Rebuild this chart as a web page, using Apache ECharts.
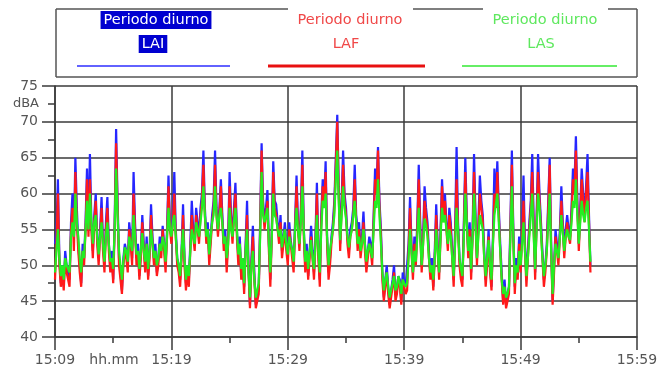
<!DOCTYPE html>
<html><head><meta charset="utf-8">
<script src="https://cdn.jsdelivr.net/npm/echarts@6/dist/echarts.min.js"></script>
<style>html,body{margin:0;padding:0;background:#fff}#c{width:664px;height:371px}</style>
</head><body><div id="c"></div>
<script>
// minutes after 15:09, one sample every 0.125 min
const startHour = 15, startMinute = 9, stepMinutes = 0.125;
const xTickMinutes = [0, 10, 20, 30, 40, 50];
const yTicks = [40, 45, 50, 55, 60, 65, 70, 75];
const seriesNames = ['Periodo diurno\nLAI', 'Periodo diurno\nLAF', 'Periodo diurno\nLAS'];

const LAI = [53,55,62,51,47.5,50,47,52,50,49,48,56,60,54,65,58,53,50,47.5,53,51,56,63.5,55,65.5,56,52,57,60,54,51,55,59.5,53,50,56,59.5,53,50,52,
48,56,69,59,51,49,46.5,51,53,52,50,56,54,51,63,56,51,53,48.5,52,57,53,50,54,48.5,52,58.5,54,51,53,49,51,54,52,55.5,53,50,55,62.5,56,
54,57,63,55,51,50,48,52,58.5,51,47.5,50,48,53,59,55,53,58,56,54,58,60,66,58,54,56,51,54,57,59,66,58,55,58,62,57,53,55,50,54,
63,57,54,58,61.5,55,51,54,48.5,51,47,53,59,50,44.5,51,55.5,49,44.5,46,46.5,56,67,59,56,58,60.5,53,48,55,64.5,59,58.5,56,54,57,52,54,56,53,
51,56,53.5,52,50,56,62.5,56,53,58,66,55,50,53,48.5,52,55.5,52,49,54,61.5,52,48,57,62,59,64.5,54,49,51,54,56,59,65,71,61,53,59,66,60,
58,54,52,55,56,58,64,57,55,56,52,54,57.5,53,50,52,54,53,51,57,63.5,61,66.5,59,55,49,45.5,48,50,47,44.5,46.5,48,50,46,47,48.5,48,45,49,
47.5,47,47,53,59.5,53,49,54,51,56,64,56,50,54,61,58,56,52,49,51,47,52,58.5,53,49,55,62,57,60,56,53,58,56,52,48,55,66.5,56,51,49,
48,56,65,57,52,56,49,55,65.5,57,51,56,62.5,59,57,52,48,51,55,50,47,54,63.5,59,64.5,58,53,49,45,48,44.5,46,47,56,66,55,47,51,49,54,
50,55,62.5,53,48,52,56,59,65.5,56,49,57,65.5,60,56,52,48,50,53,59,65,53,45,50,55,53,51,55,61,56,52,55,57,55,54,58,63.5,61,68,59,
53,58,63.5,60,57,61,65.5,57,50];

const LAF = [48,53,60,50,47,49,46.5,51,49,48,47,55,58,52,63,56,52,49,47,52,50,55,62,54,62,55,51,56,59,53,50,54,58,52,49,55,58,52,49,51,
47.5,55,67,58,50,48,46,50,52,51,49,55,53,50,60,55,50,52,48,51,56,52,49,53,48,51,57,53,50,52,48.5,50,53,51,55,52,49,54,61,55,
53,56,60,54,50,49,47,51,57,50,46.5,49,47,52,57,54,52,57,55,53,57,59,64,57,53,55,50,53,56,58,64,57,54,57,61,56,52,54,49,53,
61,56,53,57,60,54,50,53,48,50,46,52,57,49,44,50,54,48,44,45,46,55,66,58,55,57,59,52,47,54,63,58,57,55,53,56,51,53,55,52,
50,55,53,51,49,55,61,55,52,57,64,54,49,52,48,51,54,51,48,53,60,51,47,56,61,58,63,53,48,50,53,55,58,64,70,60,52,58,64,59,
57,53,51,54,55,57,62,56,52,55,51,53,56,52,49,51,53,52,50,56,62,60,66,58,54,48,45,47,49,46,44,45.5,47,49,45,46,48,47,44.5,48,
47,46,46.5,52,58,52,48,53,50,55,62,55,49,53,59,57,55,51,48,50,46.5,51,57,52,48,54,61,56,59,55,52,57,55,51,47,54,62,55,50,48,
47,55,63,56,51,55,48,54,63,56,50,55,60,58,56,51,47,50,54,49,46.5,53,60,58,63,57,52,48,44.5,47,44,45,46,55,64,54,46,50,48,53,
49,54,59,52,47,51,55,58,63,55,48,56,63,59,55,51,47,49,52,58,64,52,44.5,49,54,52,50,54,59,55,51,54,56,54,53,57,62,60,66,58,
52,57,62,59,56,60,63,56,49];

const LAS = [49,52,55,51,48.5,50,48,51,50,49.5,49,54,56,54,60,56,54,51,49,52,51,55,59,55,60,56,53,56,57,54,51.5,54,56,53,50.5,54,56,53,50.5,51,
49.5,55,63.5,57,52,50,48,50.5,52.5,52,50.5,54,53,52,57,54,51.5,52,49.5,52,54.5,52,50.5,53,49.5,52,55,53,51,52,50,51,53,52,54,53,50.5,54,58,55,
54,56,57,54,51,50,48.5,52,55,51,48,50,48.5,52,55,54,53,56,55,54,56,58,61,57,54,55,51.5,54,56,57,61,57,55,57,58,56,53,54,51,53,
58,55,54,56,58,55,51.5,53,49.5,51,47.5,52,55,49,45.5,50,52,48,45.5,46.5,47.5,54,63,57,56,57,58,53,49,54,60,57,56.5,55,54,55,52.5,54,55,53,
51.5,54,53,52,50.5,55,58,55,53,56,61,55,50.5,52,49.5,52,53.5,51,49.5,53,57,52,49,55,59,58,60,54,50,52,53.5,55,57,62,66,59,53.5,57,61,58,
56.5,54,52.5,54,55,57,59,56,53,54,52,53,55,53,50.5,52,53,52,51,55,59,58,62,57,53,49,46.5,48,49,47,45.5,46.5,47.5,48.5,46.5,47,48.5,47.5,46,48,
47.5,47,47.5,51,55,52,49,52,50.5,54,58,54,50,53,56.5,55.5,54,51,49,50,48,51,55,52,49,54,58,56,57,55,53,55,54,51,48.5,53,58,55,51,49.5,
48.5,54,60,56,52,54,49.5,54,60,56,51,54,57,56,55,51,48.5,51,53.5,50,48,53,57,57,60,56,52,48,46,47,45.5,46,47,54,61,54,47.5,50,49,52,
50,53,56,52,48.5,51,54,57,60,54,49.5,55,60,58,54.5,51,48.5,50,52,56,60,52,46,50,53,52,51,54,57,54.5,52,54,55,54,53.5,56,59,58,62,57,
53,56,59,57,56,58,59,55,50.5];

function toPairs(arr){ return arr.map((v,i)=>[i*stepMinutes, v]); }
function fmtTime(m){ const t = startMinute + m; return startHour + ':' + String(t).padStart(2,'0'); }

const chart = echarts.init(document.getElementById('c'), null, {renderer:'canvas'});
const labelFont = {color:'#555', fontSize:14, fontFamily:'DejaVu Sans'};
const gridColor = '#3a3a3a';
const legendFont = 'DejaVu Sans';

chart.setOption({
  animation:false,
  backgroundColor:'#fff',
  grid:{left:55, right:27, top:86, bottom:34, containLabel:false},
  xAxis:{
    type:'value', min:xTickMinutes[0], max:xTickMinutes[xTickMinutes.length-1], interval:10,
    axisLine:{show:true, lineStyle:{color:gridColor, width:1.5}},
    axisTick:{show:true, length:13, lineStyle:{color:gridColor, width:1.5}},
    minorTick:{show:true, splitNumber:2, length:6, lineStyle:{color:gridColor, width:1.5}},
    splitLine:{show:true, lineStyle:{color:gridColor, width:1.5}},
    axisLabel:Object.assign({margin:16, formatter:fmtTime}, labelFont)
  },
  yAxis:{
    type:'value', min:yTicks[0], max:yTicks[yTicks.length-1], interval:5,
    axisLine:{show:true, lineStyle:{color:gridColor, width:1.5}},
    axisTick:{show:true, length:13, lineStyle:{color:gridColor, width:1.5}},
    minorTick:{show:true, splitNumber:2, length:7, lineStyle:{color:gridColor, width:1.5}},
    splitLine:{show:true, lineStyle:{color:gridColor, width:1.5}},
    axisLabel:Object.assign({margin:17}, labelFont)
  },
  series:[
    {name:seriesNames[0], type:'line', data:toPairs(LAI), showSymbol:false, symbol:'none', lineStyle:{color:'#2626ff', width:2.2}, z:2},
    {name:seriesNames[1], type:'line', data:toPairs(LAF), showSymbol:false, symbol:'none', lineStyle:{color:'#ff1a1a', width:2.2}, z:3},
    {name:seriesNames[2], type:'line', data:toPairs(LAS), showSymbol:false, symbol:'none', lineStyle:{color:'#22ee22', width:2.2}, z:4}
  ],
  graphic:[
    {type:'line', shape:{x1:56,y1:9,x2:288,y2:9}, style:{stroke:'#555', lineWidth:1.5}},
    {type:'line', shape:{x1:413,y1:9,x2:483,y2:9}, style:{stroke:'#555', lineWidth:1.5}},
    {type:'line', shape:{x1:608,y1:9,x2:637,y2:9}, style:{stroke:'#555', lineWidth:1.5}},
    {type:'line', shape:{x1:56,y1:9,x2:56,y2:77}, style:{stroke:'#555', lineWidth:1.5}},
    {type:'line', shape:{x1:637,y1:9,x2:637,y2:77}, style:{stroke:'#555', lineWidth:1.5}},
    {type:'line', shape:{x1:56,y1:77,x2:637,y2:77}, style:{stroke:'#555', lineWidth:1.5}},
    {type:'text', x:156, y:20, style:{text:'Periodo diurno', fill:'#fff', font:'14.5px '+legendFont, align:'center', verticalAlign:'middle', backgroundColor:'#0000d0', padding:[2,3,1,3]}},
    {type:'text', x:153, y:44, style:{text:'LAI', fill:'#fff', font:'14.5px '+legendFont, align:'center', verticalAlign:'middle', backgroundColor:'#0000d0', padding:[2,3,1,3]}},
    {type:'line', shape:{x1:77,y1:66,x2:230,y2:66}, style:{stroke:'#6262ff', lineWidth:2}},
    {type:'text', x:350, y:20, style:{text:'Periodo diurno', fill:'#f04848', font:'14.5px '+legendFont, align:'center', verticalAlign:'middle'}},
    {type:'text', x:346, y:44, style:{text:'LAF', fill:'#f04848', font:'14.5px '+legendFont, align:'center', verticalAlign:'middle'}},
    {type:'line', shape:{x1:268,y1:66,x2:425,y2:66}, style:{stroke:'#e81010', lineWidth:3}},
    {type:'text', x:545, y:20, style:{text:'Periodo diurno', fill:'#5ee85e', font:'14.5px '+legendFont, align:'center', verticalAlign:'middle'}},
    {type:'text', x:541, y:44, style:{text:'LAS', fill:'#5ee85e', font:'14.5px '+legendFont, align:'center', verticalAlign:'middle'}},
    {type:'line', shape:{x1:462,y1:66,x2:617,y2:66}, style:{stroke:'#66ee66', lineWidth:2}},
    {type:'text', x:39, y:104, style:{text:'dBA', fill:'#555', font:'13px DejaVu Sans', align:'right', verticalAlign:'middle'}},
    {type:'text', x:114, y:360, style:{text:'hh.mm', fill:'#555', font:'14px DejaVu Sans', align:'center', verticalAlign:'middle'}}
  ]
});
</script></body></html>
